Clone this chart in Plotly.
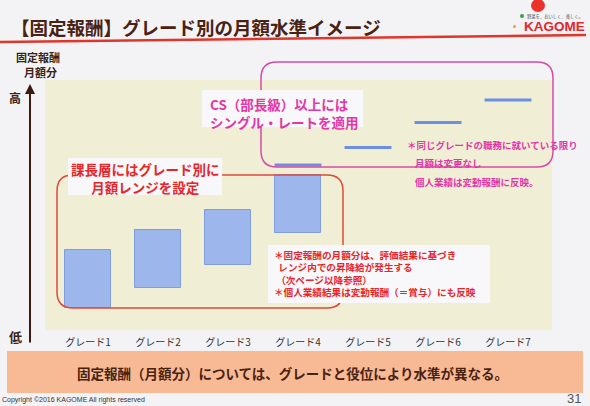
import plotly.graph_objects as go

# ---- data ----
grades = ["グレード1", "グレード2", "グレード3", "グレード4", "グレード5", "グレード6", "グレード7"]
range_grade_idx = [1, 2, 3, 4]
range_low = [9, 17, 26, 39]
range_high = [32, 40, 48, 62]
single_grade_idx = [4, 5, 6, 7]
single_rate = [66, 73, 83, 92]

W, H = 590, 406
L, R, T, B = 45, 38, 80, 76
PW, PH = W - L - R, H - T - B
FONT = "Noto Sans CJK JP"


def X(px):
    return (px - L) / PW


def Y(py):
    return (H - B - py) / PH


def rrect(x0, y0, x1, y1, r):
    pts = [
        ("M", [(x0 + r, y0)]), ("L", [(x1 - r, y0)]), ("Q", [(x1, y0), (x1, y0 + r)]),
        ("L", [(x1, y1 - r)]), ("Q", [(x1, y1), (x1 - r, y1)]), ("L", [(x0 + r, y1)]),
        ("Q", [(x0, y1), (x0, y1 - r)]), ("L", [(x0, y0 + r)]), ("Q", [(x0, y0), (x0 + r, y0)]),
    ]
    s = ""
    for cmd, ps in pts:
        s += cmd + " " + " ".join(f"{X(a):.5f},{Y(b):.5f}" for a, b in ps) + " "
    return s + "Z"


fig = go.Figure()

half = 0.335
fig.add_trace(go.Bar(
    x=range_grade_idx,
    y=[h - l for l, h in zip(range_low, range_high)],
    base=range_low,
    width=2 * half,
    marker=dict(color="#9db7ec", line=dict(color="#7f9cdb", width=1)),
    hoverinfo="skip",
))

lx, ly = [], []
for g, v in zip(single_grade_idx, single_rate):
    lx += [g - half, g + half, None]
    ly += [v, v, None]
fig.add_trace(go.Scatter(x=lx, y=ly, mode="lines",
                         line=dict(color="#6d8fe2", width=3), hoverinfo="skip"))

shapes = []
# title rule
shapes.append(dict(type="line", xref="paper", yref="paper", x0=X(0), y0=Y(42), x1=X(586), y1=Y(35),
                   line=dict(color="#e0352a", width=2.5)))
# bottom band
shapes.append(dict(type="rect", xref="paper", yref="paper", x0=X(7), y0=Y(351), x1=X(583), y1=Y(393),
                   fillcolor="#f7ba95", line=dict(width=0)))
# pink box
shapes.append(dict(type="path", xref="paper", yref="paper", path=rrect(261, 62, 553, 167, 16),
                   line=dict(color="#d64ba6", width=1.5)))
# red box
shapes.append(dict(type="path", xref="paper", yref="paper", path=rrect(57, 175, 343, 308, 16),
                   line=dict(color="#e04a3c", width=1.5)))
# white label backgrounds
shapes.append(dict(type="rect", xref="paper", yref="paper", x0=X(202), y0=Y(90), x1=X(363), y1=Y(127),
                   fillcolor="#f8f8fb", line=dict(width=0)))
shapes.append(dict(type="rect", xref="paper", yref="paper", x0=X(68), y0=Y(158), x1=X(222), y1=Y(195),
                   fillcolor="#f8f8fb", line=dict(width=0)))
shapes.append(dict(type="rect", xref="paper", yref="paper", x0=X(268), y0=Y(245), x1=X(490), y1=Y(303),
                   fillcolor="#f8f8fb", line=dict(width=0)))
# logo
shapes.append(dict(type="circle", xref="paper", yref="paper", x0=X(531), y0=Y(-1), x1=X(545), y1=Y(12),
                   fillcolor="#e8322b", line=dict(width=0)))
shapes.append(dict(type="circle", xref="paper", yref="paper", x0=X(520), y0=Y(14), x1=X(524), y1=Y(18),
                   fillcolor="#3aa04a", line=dict(width=0)))
shapes.append(dict(type="circle", xref="paper", yref="paper", x0=X(513), y0=Y(25), x1=X(516), y1=Y(28),
                   fillcolor="#f0a030", line=dict(width=0)))

ann = []


def txt(t, px, py, size, color, xanchor="left", bold=True, family=FONT, align="left"):
    ann.append(dict(text=f"<b>{t}</b>" if bold else t, x=X(px), y=Y(py), xref="paper", yref="paper",
                    xanchor=xanchor, yanchor="middle", showarrow=False, align=align,
                    font=dict(family=family, size=size, color=color)))


BROWN = "#4a2212"
NB = "\u00a0"
txt("【固定報酬】グレード別の月額水準イメージ", 9, 27, 18.5, BROWN)
txt("野菜を、おいしく、楽しく。", 525, 16, 4.3, "#555", bold=False)
txt("KAGOME", 554, 26, 13.5, "#e2262b", xanchor="center", family="Liberation Sans")
txt("固定報酬", 38, 57, 11, "#3a2418", xanchor="center")
txt("月額分", 40, 72, 11, "#3a2418", xanchor="center")
txt("高", 15, 98, 12, "#3a2418", xanchor="center")
txt("低", 15, 336, 13, "#3a2418", xanchor="center")

PINK = "#e336a6"
txt("CS（部長級）以上には<br>シングル・レートを適用", 208, 112.5, 13.5, PINK)
txt("＊同じグレードの職務に就いている限り", 405, 145, 9.5, PINK)
txt("月額は変更なし", 413, 163, 9.5, PINK)
txt("個人業績は変動報酬に反映。", 413, 182, 9.5, PINK)

RED = "#e8262a"
txt("課長層にはグレード別に<br>月額レンジを設定", 145, 177.5, 13.5, RED, xanchor="center", align="center")
txt("＊固定報酬の月額分は、評価結果に基づき<br>"
    + NB * 2 + "レンジ内での昇降給が発生する<br>"
    + NB + "（次ページ以降参照）<br>"
    + "＊個人業績結果は変動報酬（＝賞与）にも反映", 272, 273, 9.6, RED)

txt("固定報酬（月額分）については、グレードと役位により水準が異なる。", 292, 373, 13.5, BROWN, xanchor="center")
txt("Copyright ©2016 KAGOME All rights reserved", 0, 400, 7, "#333", bold=False, family="Liberation Sans")
txt("31", 583, 398, 13, "#555", xanchor="right", bold=False, family="Liberation Sans")

# vertical axis arrow
ann.append(dict(x=X(30), y=Y(84), xref="paper", yref="paper", ax=0, ay=260, text="",
                showarrow=True, arrowhead=2, arrowsize=1, arrowwidth=2, arrowcolor="#3a1a10"))

fig.update_layout(
    width=W, height=H,
    margin=dict(l=L, r=R, t=T, b=B, pad=0),
    paper_bgcolor="#f3f3f6",
    plot_bgcolor="#f1eed6",
    showlegend=False,
    bargap=0,
    shapes=shapes,
    annotations=ann,
    xaxis=dict(range=[1 - 43 / 70, 7 + 44 / 70], tickvals=list(range(1, 8)), ticktext=grades,
               showgrid=False, zeroline=False, showline=False, ticks="", ticklabelstandoff=5,
               tickfont=dict(family=FONT, size=10, color="#333")),
    yaxis=dict(range=[0, 100], visible=False, showgrid=False, zeroline=False),
)

fig.write_html("out.html", config={"displayModeBar": False},
               post_script="document.body.style.margin='0';document.body.style.overflow='hidden';")
